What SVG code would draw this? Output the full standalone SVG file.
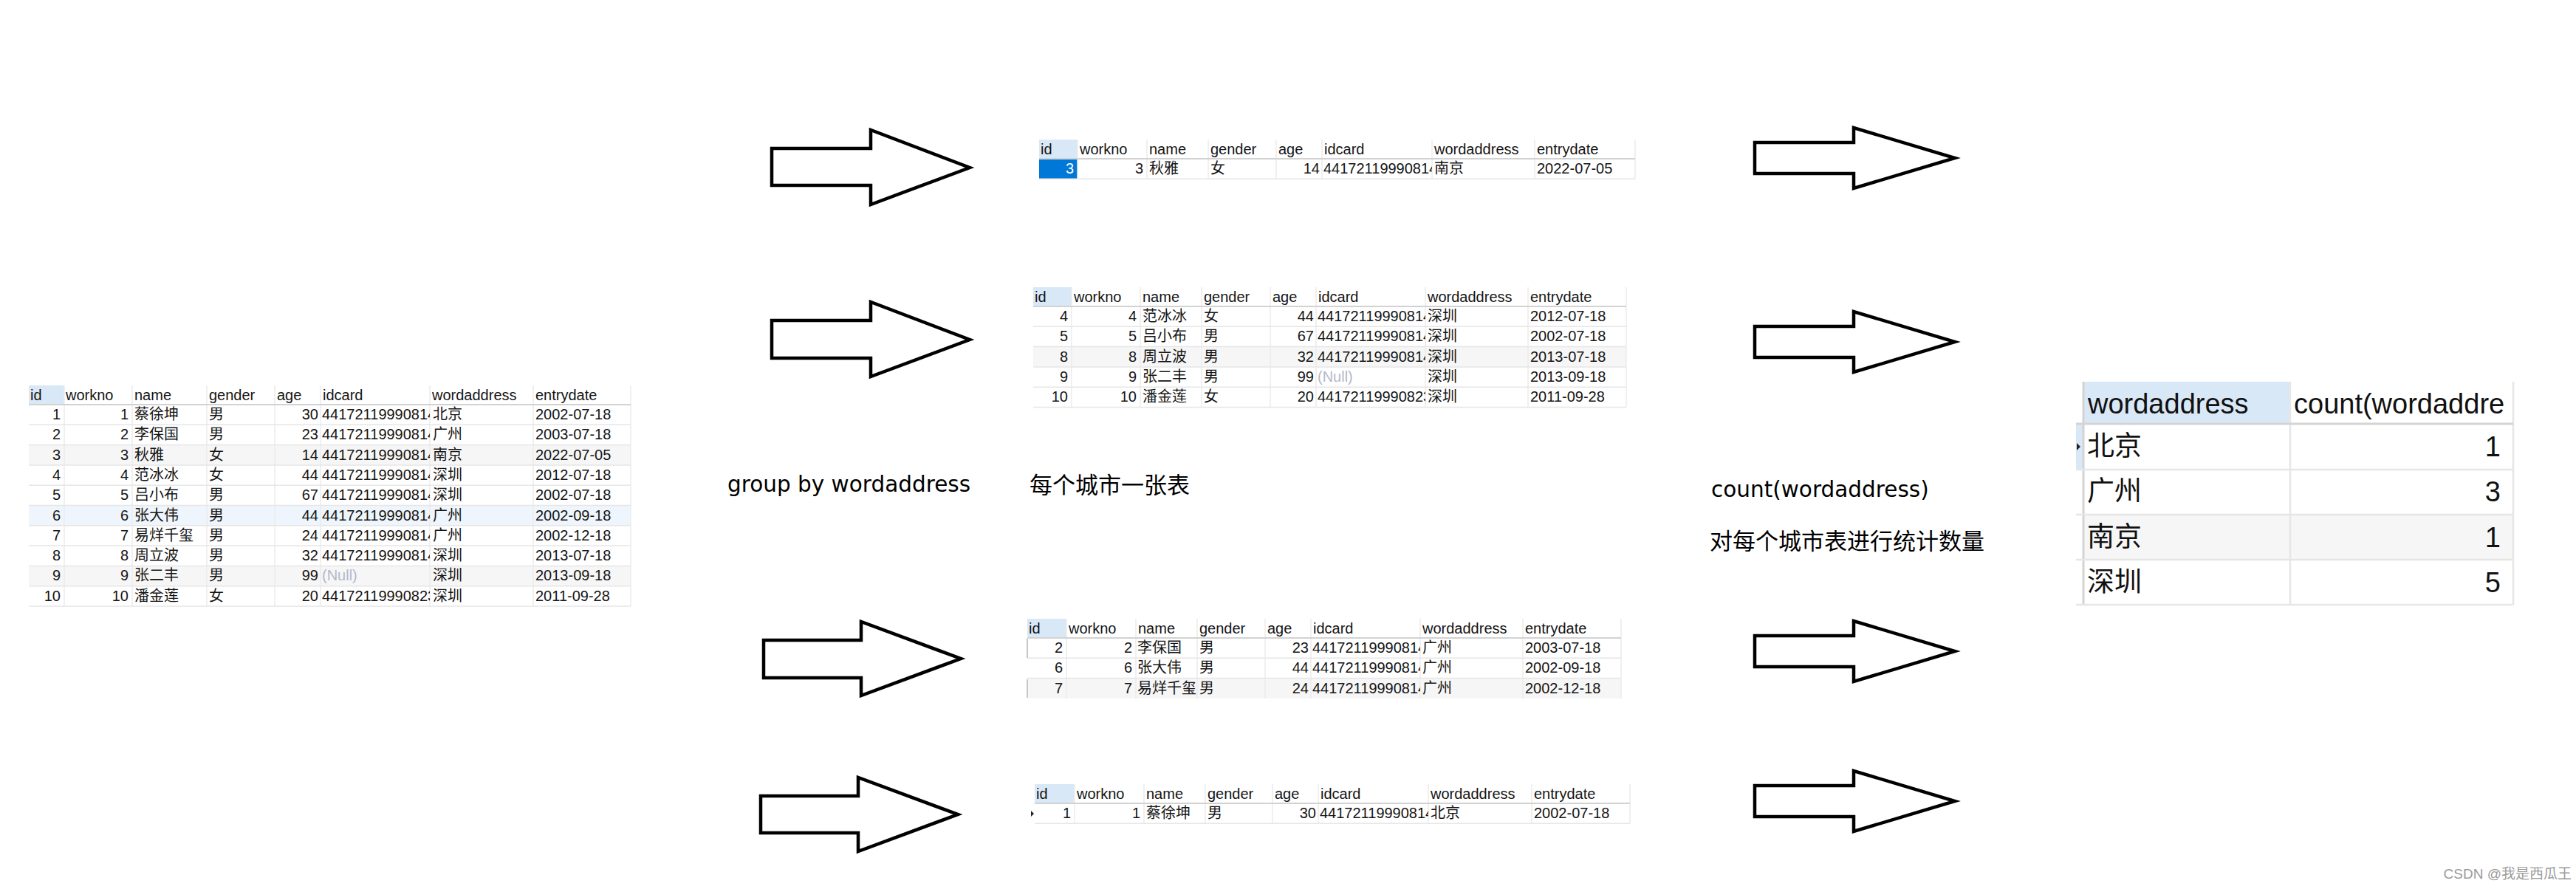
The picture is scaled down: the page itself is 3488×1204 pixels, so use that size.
<svg xmlns="http://www.w3.org/2000/svg" width="3488" height="1204" viewBox="0 0 3488 1204">
<style>
.tx{font-family:"Liberation Sans","Noto Sans CJK SC",sans-serif;font-size:20px;fill:#151515}
.e{text-anchor:end}
.nl{fill:#b3b8cc}
.w{fill:#fff}
.hb{stroke:#d2d2d2;stroke-width:2;fill:none}
.hl{stroke:#e6e6e6;stroke-width:1.5;fill:none}
.vl{stroke:#ececec;stroke-width:1.5;fill:none}
.hd{fill:#d9e8f7}
.alt{fill:#f6f6f6}
.sel{fill:#eef5fc}
.arr{fill:#fff;stroke:#000;stroke-width:4.5;stroke-linejoin:miter}
.lbl{font-family:"DejaVu Sans",sans-serif;font-size:29.5px;fill:#000}
.cj{font-family:"Noto Sans CJK SC",sans-serif;font-size:31px;fill:#000}
.big{font-family:"Liberation Sans","Noto Sans CJK SC",sans-serif;font-size:37px;fill:#111}
.rhb{stroke:#d4d4d4;stroke-width:3;fill:none}
.rhl{stroke:#e6e6e6;stroke-width:2.5;fill:none}
.wm{font-family:"Liberation Sans","Noto Sans CJK SC",sans-serif;font-size:19px;fill:#9b9b9b;text-anchor:end}
</style>
<defs>
<clipPath id="c1"><rect x="434" y="548" width="148" height="273"/></clipPath>
<clipPath id="c2"><rect x="1790" y="215" width="149" height="28"/></clipPath>
<clipPath id="c3"><rect x="1782" y="415" width="148" height="137"/></clipPath>
<clipPath id="c4"><rect x="1775" y="864" width="148" height="82"/></clipPath>
<clipPath id="c5"><rect x="1785" y="1088" width="149" height="28"/></clipPath>
<clipPath id="c6"><rect x="3101" y="517" width="302" height="57"/></clipPath>
</defs>
<rect width="3488" height="1204" fill="#fff"/>

<!-- Main table -->
<g id="table-all">
<rect class="hd" x="39" y="522" width="48" height="26"/>
<rect class="alt" x="39" y="602.6" width="815" height="27.3"/>
<rect class="sel" x="39" y="684.5" width="815" height="27.3"/>
<rect class="alt" x="39" y="766.4" width="815" height="27.3"/>
<path class="vl" d="M87 522V821M179 522V821M280 522V821M372 522V821M434 522V821M582 522V821M722 522V821M854 522V821"/>
<path class="hb" d="M39 548H854"/>
<path class="hl" d="M39 575.3H854M39 602.6H854M39 629.9H854M39 657.2H854M39 684.5H854M39 711.8H854M39 739.1H854M39 766.4H854M39 793.7H854M39 821H854"/>
<g class="tx">
<text x="41" y="542">id</text><text x="89" y="542">workno</text><text x="182" y="542">name</text><text x="283" y="542">gender</text><text x="375" y="542">age</text><text x="437" y="542">idcard</text><text x="585" y="542">wordaddress</text><text x="725" y="542">entrydate</text>
<g class="e">
<text x="82" y="568">1</text><text x="82" y="595">2</text><text x="82" y="623">3</text><text x="82" y="650">4</text><text x="82" y="677">5</text><text x="82" y="705">6</text><text x="82" y="732">7</text><text x="82" y="759">8</text><text x="82" y="786">9</text><text x="82" y="814">10</text>
<text x="174" y="568">1</text><text x="174" y="595">2</text><text x="174" y="623">3</text><text x="174" y="650">4</text><text x="174" y="677">5</text><text x="174" y="705">6</text><text x="174" y="732">7</text><text x="174" y="759">8</text><text x="174" y="786">9</text><text x="174" y="814">10</text>
<text x="431" y="568">30</text><text x="431" y="595">23</text><text x="431" y="623">14</text><text x="431" y="650">44</text><text x="431" y="677">67</text><text x="431" y="705">44</text><text x="431" y="732">24</text><text x="431" y="759">32</text><text x="431" y="786">99</text><text x="431" y="814">20</text>
</g>
<text x="182" y="568">蔡徐坤</text><text x="182" y="595">李保国</text><text x="182" y="623">秋雅</text><text x="182" y="650">范冰冰</text><text x="182" y="677">吕小布</text><text x="182" y="705">张大伟</text><text x="182" y="732">易烊千玺</text><text x="182" y="759">周立波</text><text x="182" y="786">张二丰</text><text x="182" y="814">潘金莲</text>
<text x="283" y="568">男</text><text x="283" y="595">男</text><text x="283" y="623">女</text><text x="283" y="650">女</text><text x="283" y="677">男</text><text x="283" y="705">男</text><text x="283" y="732">男</text><text x="283" y="759">男</text><text x="283" y="786">男</text><text x="283" y="814">女</text>
<g clip-path="url(#c1)">
<text x="436" y="568">44172119990814</text><text x="436" y="595">44172119990814</text><text x="436" y="623">44172119990814</text><text x="436" y="650">44172119990814</text><text x="436" y="677">44172119990814</text><text x="436" y="705">44172119990814</text><text x="436" y="732">44172119990814</text><text x="436" y="759">44172119990814</text><text class="nl" x="436" y="786">(Null)</text><text x="436" y="814">44172119990823</text>
</g>
<text x="586" y="568">北京</text><text x="586" y="595">广州</text><text x="586" y="623">南京</text><text x="586" y="650">深圳</text><text x="586" y="677">深圳</text><text x="586" y="705">广州</text><text x="586" y="732">广州</text><text x="586" y="759">深圳</text><text x="586" y="786">深圳</text><text x="586" y="814">深圳</text>
<text x="725" y="568">2002-07-18</text><text x="725" y="595">2003-07-18</text><text x="725" y="623">2022-07-05</text><text x="725" y="650">2012-07-18</text><text x="725" y="677">2002-07-18</text><text x="725" y="705">2002-09-18</text><text x="725" y="732">2002-12-18</text><text x="725" y="759">2013-07-18</text><text x="725" y="786">2013-09-18</text><text x="725" y="814">2011-09-28</text>
</g>
</g>

<!-- Nanjing table -->
<g id="table-nanjing">
<rect class="hd" x="1407" y="189" width="52" height="26"/>
<rect x="1407" y="215" width="52" height="27.3" fill="#0078d7"/>
<path class="vl" d="M1459 189V242.3M1553 189V242.3M1636 189V242.3M1728 189V242.3M1790 189V242.3M1939 189V242.3M2078 189V242.3M2214 189V242.3"/>
<path class="hb" d="M1407 215H2214"/>
<path class="hl" d="M1407 242.3H2214"/>
<g class="tx">
<text x="1409" y="209">id</text><text x="1462" y="209">workno</text><text x="1556" y="209">name</text><text x="1639" y="209">gender</text><text x="1731" y="209">age</text><text x="1793" y="209">idcard</text><text x="1942" y="209">wordaddress</text><text x="2081" y="209">entrydate</text>
<text class="e w" x="1454" y="235">3</text><text class="e" x="1548" y="235">3</text><text x="1556" y="235">秋雅</text><text x="1639" y="235">女</text><text class="e" x="1787" y="235">14</text>
<text clip-path="url(#c2)" x="1792" y="235">44172119990814</text>
<text x="1942" y="235">南京</text><text x="2081" y="235">2022-07-05</text>
</g>
</g>

<!-- Shenzhen table -->
<g id="table-shenzhen">
<rect class="hd" x="1399" y="389" width="52" height="26"/>
<rect class="alt" x="1399" y="469.6" width="803" height="27.3"/>
<path class="vl" d="M1451 389V551.5M1544 389V551.5M1627 389V551.5M1720 389V551.5M1782 389V551.5M1930 389V551.5M2069 389V551.5M2202 389V551.5"/>
<path class="hb" d="M1399 415H2202"/>
<path class="hl" d="M1399 442.3H2202M1399 469.6H2202M1399 496.9H2202M1399 524.2H2202M1399 551.5H2202"/>
<g class="tx">
<text x="1401" y="409">id</text><text x="1454" y="409">workno</text><text x="1547" y="409">name</text><text x="1630" y="409">gender</text><text x="1723" y="409">age</text><text x="1785" y="409">idcard</text><text x="1933" y="409">wordaddress</text><text x="2072" y="409">entrydate</text>
<g class="e">
<text x="1446" y="435">4</text><text x="1446" y="462">5</text><text x="1446" y="490">8</text><text x="1446" y="517">9</text><text x="1446" y="544">10</text>
<text x="1539" y="435">4</text><text x="1539" y="462">5</text><text x="1539" y="490">8</text><text x="1539" y="517">9</text><text x="1539" y="544">10</text>
<text x="1779" y="435">44</text><text x="1779" y="462">67</text><text x="1779" y="490">32</text><text x="1779" y="517">99</text><text x="1779" y="544">20</text>
</g>
<text x="1547" y="435">范冰冰</text><text x="1547" y="462">吕小布</text><text x="1547" y="490">周立波</text><text x="1547" y="517">张二丰</text><text x="1547" y="544">潘金莲</text>
<text x="1630" y="435">女</text><text x="1630" y="462">男</text><text x="1630" y="490">男</text><text x="1630" y="517">男</text><text x="1630" y="544">女</text>
<g clip-path="url(#c3)">
<text x="1784" y="435">44172119990814</text><text x="1784" y="462">44172119990814</text><text x="1784" y="490">44172119990814</text><text class="nl" x="1784" y="517">(Null)</text><text x="1784" y="544">44172119990823</text>
</g>
<text x="1933" y="435">深圳</text><text x="1933" y="462">深圳</text><text x="1933" y="490">深圳</text><text x="1933" y="517">深圳</text><text x="1933" y="544">深圳</text>
<text x="2072" y="435">2012-07-18</text><text x="2072" y="462">2002-07-18</text><text x="2072" y="490">2013-07-18</text><text x="2072" y="517">2013-09-18</text><text x="2072" y="544">2011-09-28</text>
</g>
</g>

<!-- Guangzhou table -->
<g id="table-guangzhou">
<rect class="hd" x="1391" y="838" width="53" height="26"/>
<rect class="alt" x="1391" y="918.6" width="804" height="27.3"/>
<path class="vl" d="M1444 838V946M1538 838V946M1621 838V946M1713 838V946M1775 838V946M1923 838V946M2062 838V946M2195 838V946"/>
<path class="hb" d="M1391 864H2195"/>
<path class="hl" d="M1391 891.3H2195M1391 918.6H2195"/>
<path d="M1391 865V891M1391 920V945" stroke="#c8c8c8" stroke-width="2"/>
<g class="tx">
<text x="1393" y="858">id</text><text x="1447" y="858">workno</text><text x="1541" y="858">name</text><text x="1624" y="858">gender</text><text x="1716" y="858">age</text><text x="1778" y="858">idcard</text><text x="1926" y="858">wordaddress</text><text x="2065" y="858">entrydate</text>
<g class="e">
<text x="1439" y="884">2</text><text x="1439" y="911">6</text><text x="1439" y="939">7</text>
<text x="1533" y="884">2</text><text x="1533" y="911">6</text><text x="1533" y="939">7</text>
<text x="1772" y="884">23</text><text x="1772" y="911">44</text><text x="1772" y="939">24</text>
</g>
<text x="1540" y="884">李保国</text><text x="1540" y="911">张大伟</text><text x="1540" y="939">易烊千玺</text>
<text x="1624" y="884">男</text><text x="1624" y="911">男</text><text x="1624" y="939">男</text>
<g clip-path="url(#c4)">
<text x="1777" y="884">44172119990814</text><text x="1777" y="911">44172119990814</text><text x="1777" y="939">44172119990814</text>
</g>
<text x="1926" y="884">广州</text><text x="1926" y="911">广州</text><text x="1926" y="939">广州</text>
<text x="2065" y="884">2003-07-18</text><text x="2065" y="911">2002-09-18</text><text x="2065" y="939">2002-12-18</text>
</g>
</g>

<!-- Beijing table -->
<g id="table-beijing">
<rect class="hd" x="1401" y="1062" width="54" height="26"/>
<path class="vl" d="M1455 1062V1115.3M1549 1062V1115.3M1632 1062V1115.3M1723 1062V1115.3M1785 1062V1115.3M1934 1062V1115.3M2074 1062V1115.3M2207 1062V1115.3"/>
<path class="hb" d="M1401 1088H2207"/>
<path class="hl" d="M1401 1115.3H2207"/>
<path d="M1396 1098L1400 1102L1396 1106Z" fill="#222"/>
<g class="tx">
<text x="1403" y="1082">id</text><text x="1458" y="1082">workno</text><text x="1552" y="1082">name</text><text x="1635" y="1082">gender</text><text x="1726" y="1082">age</text><text x="1788" y="1082">idcard</text><text x="1937" y="1082">wordaddress</text><text x="2077" y="1082">entrydate</text>
<text class="e" x="1450" y="1108">1</text><text class="e" x="1544" y="1108">1</text><text x="1552" y="1108">蔡徐坤</text><text x="1635" y="1108">男</text><text class="e" x="1782" y="1108">30</text>
<text clip-path="url(#c5)" x="1787" y="1108">44172119990814</text>
<text x="1937" y="1108">北京</text><text x="2077" y="1108">2002-07-18</text>
</g>
</g>

<!-- Result table -->
<g id="table-result">
<rect class="hd" x="2821" y="517" width="280" height="57"/>
<rect class="hd" x="2811" y="574" width="10" height="62"/>
<rect class="alt" x="2821" y="697" width="582" height="61"/>
<path class="vl" d="M3101 517V819M3403 517V819" style="stroke:#e6e6e6;stroke-width:2.5"/>
<path d="M2821 517V819" stroke="#d4d4d4" stroke-width="3"/>
<path class="rhb" d="M2811 574H3403"/>
<path class="rhl" d="M2811 636H3403M2811 697H3403M2811 758H3403M2811 819H3403"/>
<path d="M2812 600L2817 605L2812 610Z" fill="#222"/>
<g class="big">
<text x="2827" y="560" style="font-size:38px">wordaddress</text>
<text x="3106" y="560" style="font-size:38px" clip-path="url(#c6)">count(wordaddre</text>
<text x="2826" y="617">北京</text><text x="2826" y="678">广州</text><text x="2826" y="740">南京</text><text x="2826" y="801">深圳</text>
<g class="e" style="font-size:38px">
<text x="3386" y="618">1</text><text x="3386" y="679">3</text><text x="3386" y="741">1</text><text x="3386" y="802">5</text>
</g>
</g>
</g>

<!-- Labels -->
<g id="label-groupby"><text class="lbl" x="985" y="666">group by wordaddress</text></g>
<g id="label-pertable"><text class="cj" x="1394" y="668">每个城市一张表</text></g>
<g id="label-count"><text class="lbl" x="2317" y="673">count(wordaddress)</text></g>
<g id="label-stat"><text class="cj" x="2315" y="744">对每个城市表进行统计数量</text></g>
<g id="watermark"><text class="wm" x="3482" y="1190">CSDN @我是西瓜王</text></g>

<!-- Connectors (block arrows) -->
<g id="connectors">
<polygon class="arr" points="1045,201 1179,201 1179,176 1313,227 1179,277 1179,251 1045,251"/>
<polygon class="arr" points="1045,434 1179,434 1179,409 1313,460 1179,510 1179,485 1045,485"/>
<polygon class="arr" points="1034,867 1166,867 1166,842 1301,892 1166,942 1166,918 1034,918"/>
<polygon class="arr" points="1030,1078 1162,1078 1162,1053 1297,1103 1162,1153 1162,1128 1030,1128"/>
<polygon class="arr" points="2376,193 2510,193 2510,173 2647,214 2510,255 2510,235 2376,235"/>
<polygon class="arr" points="2376,442 2510,442 2510,422 2647,463 2510,504 2510,484 2376,484"/>
<polygon class="arr" points="2376,861 2510,861 2510,841 2647,882 2510,923 2510,903 2376,903"/>
<polygon class="arr" points="2376,1064 2510,1064 2510,1044 2647,1085 2510,1126 2510,1106 2376,1106"/>
</g>
</svg>
